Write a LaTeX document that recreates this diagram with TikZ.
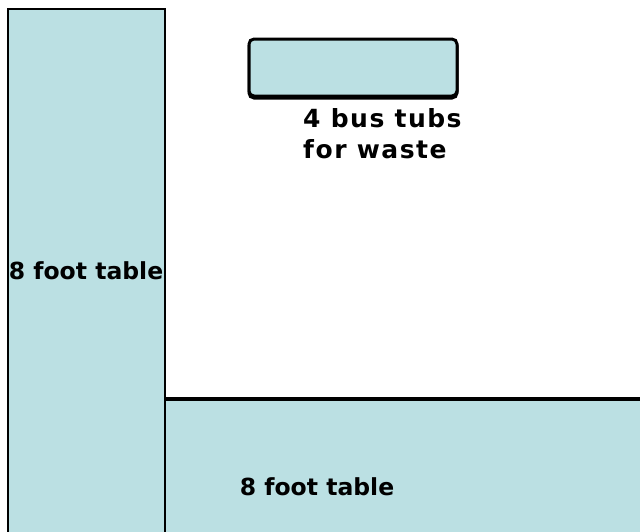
\documentclass[tikz,border=0pt]{standalone}
\usepackage{fontspec}
\setmainfont{DejaVu Sans}
\definecolor{tablefill}{RGB}{187,224,227}
\begin{document}
\begin{tikzpicture}[x=1pt,y=-1pt,
  tbl/.style={draw=black,fill=tablefill,line width=2.5pt},
  lbl/.style={font=\bfseries\fontsize{23.5}{28}\selectfont,inner sep=0pt},
  wide/.style={font=\bfseries\fontsize{25}{30}\selectfont\addfontfeature{LetterSpace=6}},
  tubbox/.style={tbl,line width=3pt,rounded corners=5pt,minimum width=208pt,minimum height=57pt,inner sep=0pt},
]
\useasboundingbox (0,0) rectangle (640,531);
\begin{scope}
\clip (0,0) rectangle (640,531);
\path[tbl] (165,399) rectangle (650,560) coordinate (bt);
\draw[line width=4pt] (165,399) -- (650,399);
\path[tbl] (8,9) rectangle (165,560) coordinate (lt);
\end{scope}
\node[tubbox,fill=black] (shadow) at (353,69.5) {};
\node[tubbox] (tubs) at (353,67.5) {};
\node[lbl,wide,anchor=base west] (t1) at (303,127) {4 bus tubs};
\node[lbl,wide,anchor=base west] (t2) at (303,158) {for waste};
\node[lbl] (l1) at (86,271) {8 foot table};
\node[lbl] (l2) at (317,487) {8 foot table};
\end{tikzpicture}
\end{document}
